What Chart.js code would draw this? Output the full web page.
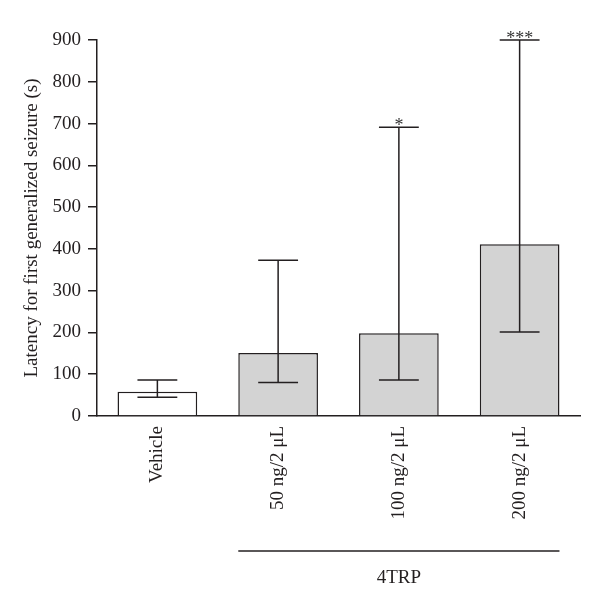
<!DOCTYPE html>
<html>
<head>
<meta charset="utf-8">
<script src="https://cdn.jsdelivr.net/npm/chart.js@4"></script>
<style>
  html, body { margin: 0; padding: 0; background: #fff; }
  #wrap { width: 600px; height: 611px; }
</style>
</head>
<body>
<div id="wrap"><canvas id="grafico" width="600" height="611"></canvas></div>
<script>
// Datos
const categorias = ["Vehicle", "50 ng/2 \u03bcL", "100 ng/2 \u03bcL", "200 ng/2 \u03bcL"];
const medias = [58, 151, 198, 411];
const errorInferior = [45, 80, 86, 201];
const errorSuperior = [86, 373, 691, 900];
const asteriscos = ["", "", "*", "***"];
const colores = ["#ffffff", "#d3d3d3", "#d3d3d3", "#d3d3d3"];
const yTicks = [0, 100, 200, 300, 400, 500, 600, 700, 800, 900];
const grupo = { texto: "4TRP", desde: 1, hasta: 3 };

const fuente = "'Liberation Serif', 'DejaVu Serif', serif";
const tinta = "#231f20";

// Barras de error, asteriscos y el grupo 4TRP
const extras = {
  id: "extras",
  afterDatasetsDraw(chart) {
    const ctx = chart.ctx;
    const y = chart.scales.y;
    const barras = chart.getDatasetMeta(0).data;
    ctx.save();
    ctx.strokeStyle = tinta;
    ctx.lineWidth = 1.5;
    barras.forEach((b, i) => {
      const x = b.x;
      const cap = b.width / 4;
      const yLo = y.getPixelForValue(errorInferior[i]);
      const yHi = y.getPixelForValue(errorSuperior[i]);
      ctx.beginPath();
      ctx.moveTo(x, yLo); ctx.lineTo(x, yHi);
      ctx.moveTo(x - cap, yLo); ctx.lineTo(x + cap, yLo);
      ctx.moveTo(x - cap, yHi); ctx.lineTo(x + cap, yHi);
      ctx.stroke();
      if (asteriscos[i]) {
        ctx.fillStyle = "#333";
        ctx.font = "18px " + fuente;
        ctx.textAlign = "center";
        ctx.textBaseline = "alphabetic";
        ctx.fillText(asteriscos[i], x, yHi + 4);
      }
    });
    // linea del grupo
    const b0 = barras[grupo.desde], b1 = barras[grupo.hasta];
    const x0 = b0.x - b0.width / 2, x1 = b1.x + b1.width / 2;
    const yl = 551;
    ctx.beginPath();
    ctx.moveTo(x0, yl); ctx.lineTo(x1, yl);
    ctx.stroke();
    ctx.fillStyle = tinta;
    ctx.font = "19px " + fuente;
    ctx.textAlign = "center";
    ctx.textBaseline = "middle";
    ctx.fillText(grupo.texto, (x0 + x1) / 2, 578);
    ctx.restore();
  }
};

new Chart(document.getElementById("grafico").getContext("2d"), {
  type: "bar",
  data: {
    labels: categorias,
    datasets: [{
      data: medias,
      backgroundColor: colores,
      borderColor: tinta,
      borderWidth: 1.5,
      borderSkipped: "bottom",
      categoryPercentage: 1,
      barPercentage: 0.66,
    }],
  },
  options: {
    responsive: false,
    animation: false,
    events: [],
    layout: { padding: { top: 40, right: 20, bottom: 0, left: 0 } },
    plugins: {
      legend: { display: false },
      tooltip: { enabled: false },
      title: { display: false },
    },
    scales: {
      x: {
        grid: { display: false, drawTicks: false },
        border: { color: tinta, width: 1.5 },
        ticks: {
          color: tinta,
          font: { family: fuente, size: 19 },
          minRotation: 90,
          maxRotation: 90,
          padding: 10,
          autoSkip: false,
        },
        afterFit: (s) => { s.height = 195; },
      },
      y: {
        min: 0,
        max: 900,
        afterBuildTicks: (s) => { s.ticks = yTicks.map(v => ({ value: v })); },
        grid: { display: true, drawOnChartArea: false, drawTicks: true, tickLength: 9, color: tinta, lineWidth: 1.5 },
        border: { color: tinta, width: 1.5 },
        ticks: {
          color: tinta,
          font: { family: fuente, size: 19 },
          padding: 7,
        },
        title: {
          display: true,
          text: "Latency for first generalized seizure (s)",
          color: tinta,
          font: { family: fuente, size: 19 },
          padding: { top: 21, bottom: 0 },
        },
        afterFit: (s) => { s.width = 97; },
      },
    },
  },
  plugins: [extras],
});
</script>
</body>
</html>
